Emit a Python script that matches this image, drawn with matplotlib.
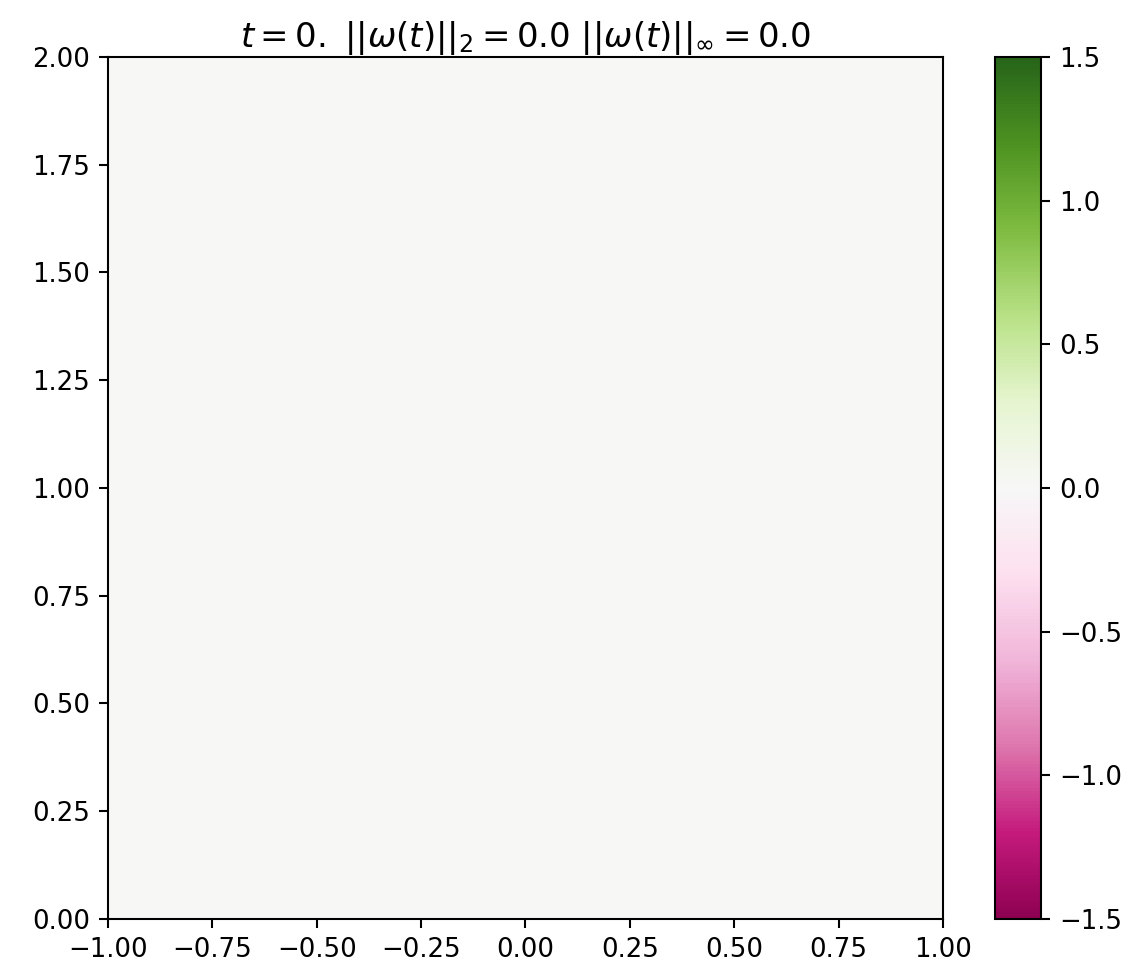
import numpy as np
import matplotlib
matplotlib.use("Agg")
import matplotlib.pyplot as plt

# vorticity field at t = 0 (all zero)
x_edges = np.linspace(-1.0, 1.0, 65)
y_edges = np.linspace(0.0, 2.0, 65)
omega = np.zeros((64, 64))
t_val = "0."
norm_2 = 0.0
norm_inf = 0.0
vlim = 1.5

scale = 1.87
plt.rcParams["font.size"] = 10 * scale
plt.rcParams["axes.linewidth"] = 0.8 * scale
plt.rcParams["xtick.major.size"] = 3.5 * scale
plt.rcParams["ytick.major.size"] = 3.5 * scale
plt.rcParams["xtick.major.width"] = 0.8 * scale
plt.rcParams["ytick.major.width"] = 0.8 * scale
plt.rcParams["xtick.major.pad"] = 3.5 * scale
plt.rcParams["ytick.major.pad"] = 3.5 * scale

fig = plt.figure(figsize=(11.27, 9.74), dpi=100)
ax = fig.add_axes([0.0958, 0.0565, 0.7409, 0.885])
cax = fig.add_axes([0.8829, 0.0565, 0.0408, 0.885])

mesh = ax.pcolormesh(x_edges, y_edges, omega, cmap="PiYG", vmin=-vlim, vmax=vlim)
ax.set_xlim(-1, 1)
ax.set_ylim(0, 2)
ax.set_xticks(np.arange(-1.0, 1.01, 0.25))
ax.set_yticks(np.arange(0.0, 2.01, 0.25))
ax.set_title(r"$t = %s$ $||\omega(t)||_2 = %.1f$ $||\omega(t)||_\infty = %.1f$"
             % (t_val, norm_2, norm_inf), fontsize=24.4, pad=4)

cb = fig.colorbar(mesh, cax=cax)
cb.outline.set_linewidth(0.8 * scale)

fig.savefig("out.png", dpi=100)
